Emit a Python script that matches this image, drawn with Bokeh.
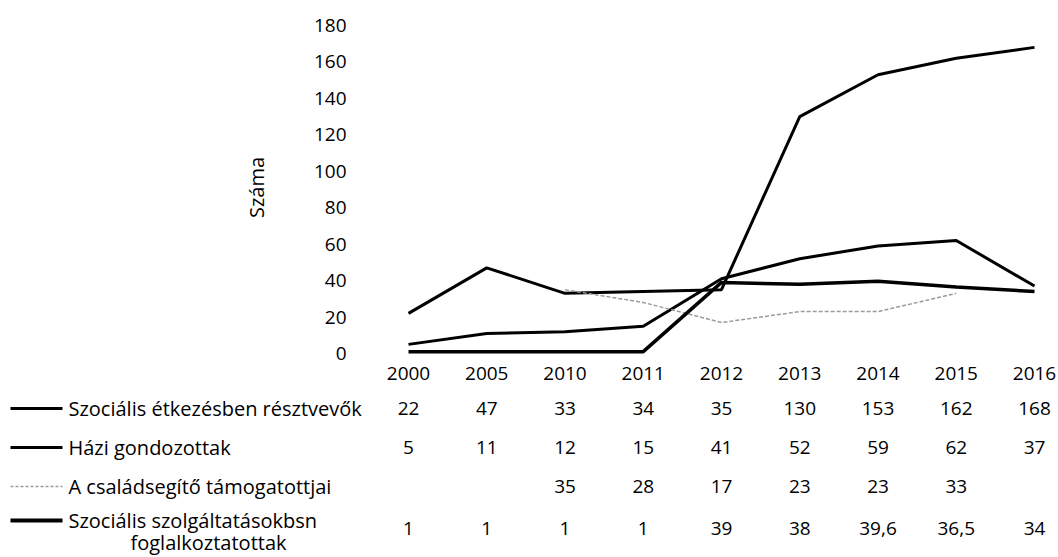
import math
from bokeh.plotting import figure
from bokeh.models import Range1d, FixedTicker, ColumnDataSource
from bokeh.core.properties import value
from bokeh.embed import file_html
from bokeh.resources import INLINE

nan = float("nan")

years = ["2000", "2005", "2010", "2011", "2012", "2013", "2014", "2015", "2016"]
etkezes = [22, 47, 33, 34, 35, 130, 153, 162, 168]
hazi = [5, 11, 12, 15, 41, 52, 59, 62, 37]
csaladsegito = [nan, nan, 35, 28, 17, 23, 23, 33, nan]
szolgaltatas = [1, 1, 1, 1, 39, 38, 39.6, 36.5, 34]
y_ticks = [0, 20, 40, 60, 80, 100, 120, 140, 160, 180]
y_title = "Száma"

series_labels = [
    ["Szociális étkezésben résztvevők"],
    ["Házi gondozottak"],
    ["A családsegítő támogatottjai"],
    ["Szociális szolgáltatásokbsn", "foglalkoztatottak"],
]

FONT = value("Open Sans")
idx = list(range(len(years)))

# ---- layout geometry (picture pixels) ----
M = 0
W, H = 1058, 557
STEP = 78.25
X_FIRST = 408
KY = 328.0 / 180.0
Y_ZERO = 353

x_start = -(X_FIRST - M) / STEP
x_end = x_start + W / STEP
y_end = (Y_ZERO - M) / KY
y_start = y_end - H / KY


def px_x(px):
    return (px - X_FIRST) / STEP


def px_y(py):
    return (Y_ZERO - py) / KY


p = figure(width=W, height=H, x_range=Range1d(x_start, x_end), y_range=Range1d(y_start, y_end),
           output_backend="svg", toolbar_location=None, min_border=0)
p.outline_line_color = None
p.xgrid.visible = False
p.ygrid.visible = False
p.background_fill_color = "white"

xa = p.xaxis[0]
xa.fixed_location = px_y(356)
xa.ticker = FixedTicker(ticks=idx)
xa.major_label_overrides = {i: y for i, y in enumerate(years)}
xa.axis_line_color = None
xa.major_tick_line_color = None
xa.minor_tick_line_color = None
xa.major_label_standoff = 4
xa.major_label_text_font = "Open Sans"
xa.major_label_text_font_size = "19px"
xa.major_label_text_color = "black"

ya = p.yaxis[0]
ya.fixed_location = px_x(369)
ya.ticker = FixedTicker(ticks=y_ticks)
ya.axis_line_color = None
ya.major_tick_line_color = None
ya.minor_tick_line_color = None
ya.major_label_standoff = 17
ya.major_label_text_font = "Open Sans"
ya.major_label_text_font_size = "19px"
ya.major_label_text_color = "black"

# y-axis title
p.text(x=[px_x(256)], y=[px_y(187)], text=[y_title], angle=math.pi / 2,
       text_font=FONT, text_font_size="20px", text_color="black",
       text_align="center", text_baseline="middle")

src = ColumnDataSource(dict(x=idx, etk=etkezes, hazi=hazi, csal=csaladsegito, szolg=szolgaltatas))
p.line("x", "etk", source=src, line_color="black", line_width=3)
p.line("x", "hazi", source=src, line_color="black", line_width=3)
p.line("x", "csal", source=src, line_color="#9a9a9a", line_width=1.5, line_dash="4 2")
p.line("x", "szolg", source=src, line_color="black", line_width=3.5)

# ---- data table ----
def fmt(v):
    if v is None or (isinstance(v, float) and math.isnan(v)):
        return ""
    return f"{v:g}".replace(".", ",")


row_py = [408, 447, 486, 528]
label_py = [[408], [447], [486], [520, 542]]
key_styles = [
    dict(line_color="black", line_width=3),
    dict(line_color="black", line_width=3),
    dict(line_color="#9a9a9a", line_width=1.5, line_dash="3 2"),
    dict(line_color="black", line_width=4),
]
all_series = [etkezes, hazi, csaladsegito, szolgaltatas]

for r, ser in enumerate(all_series):
    p.text(x=idx, y=[px_y(row_py[r])] * len(idx), text=[fmt(v) for v in ser],
           text_font=FONT, text_font_size="19px", text_color="black",
           text_align="center", text_baseline="middle")
    ky = px_y(label_py[r][0])
    p.segment(x0=[px_x(10)], y0=[ky], x1=[px_x(62)], y1=[ky], **key_styles[r])
    lines = series_labels[r]
    p.text(x=[px_x(68)], y=[ky], text=[lines[0]],
           text_font=FONT, text_font_size="20px", text_color="black",
           text_align="left", text_baseline="middle")
    if len(lines) > 1:
        p.text(x=[px_x(130)], y=[px_y(label_py[r][1])], text=[lines[1]],
               text_font=FONT, text_font_size="20px", text_color="black",
               text_align="left", text_baseline="middle")

open("out.html", "w").write(file_html(p, INLINE))
